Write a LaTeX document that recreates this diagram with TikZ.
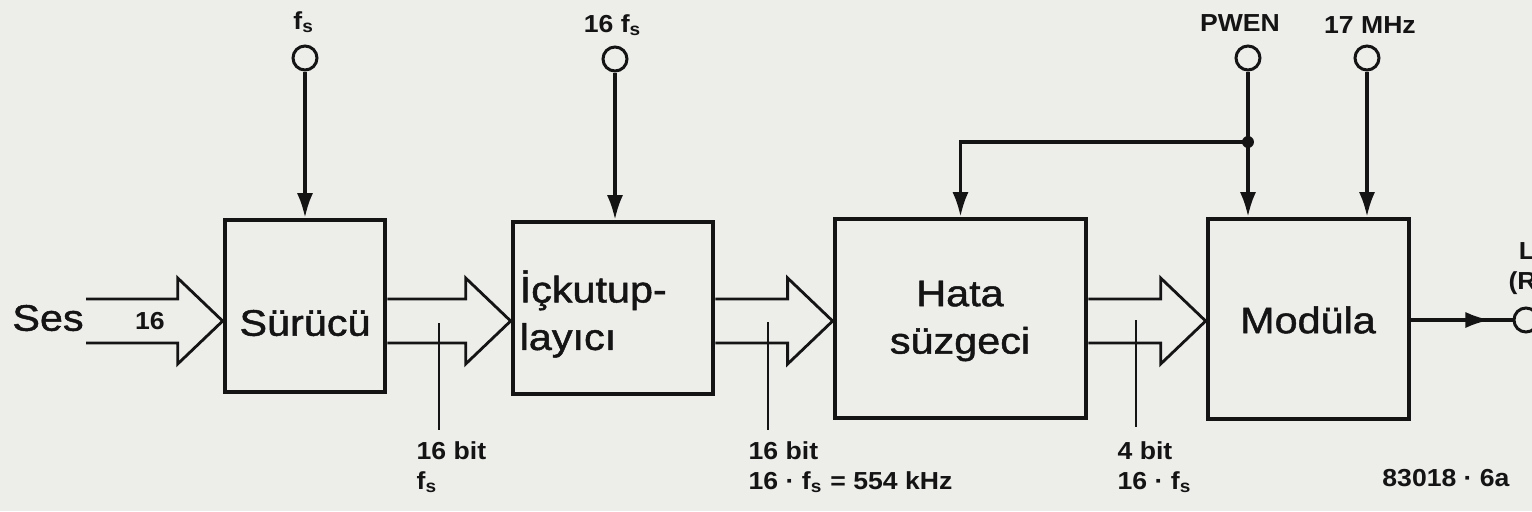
\documentclass[tikz,border=0pt]{standalone}
\usepackage{fontspec}
\setmainfont{Liberation Sans}
\newfontfamily\blkfont[FakeStretch=1.12,FakeBold=1.3]{Liberation Sans}
\newfontfamily\lblfont[FakeStretch=1.08]{Liberation Sans}
\usepackage{tikz}
\usetikzlibrary{arrows.meta,positioning,calc}
\definecolor{paper}{HTML}{EDEDEA}
\definecolor{ink}{HTML}{141414}

\newcommand{\fs}{f\textsubscript{s}}
% hollow bus arrow between two coordinates on the bus axis
\newcommand{\busarrow}[2]{%
  \draw[bus] ([shift={(0,-22)}]#1) -- ([shift={(-45,-22)}]#2) -- ([shift={(-45,-43)}]#2)
    -- (#2) -- ([shift={(-45,43)}]#2) -- ([shift={(-45,22)}]#2) -- ([shift={(0,22)}]#1);}

\begin{document}
\begin{tikzpicture}[
        x=0.01cm,y=-0.01cm,
        >={Latex[length=7pt,width=4.6pt]},
        blk/.style={draw=ink,line width=1.3pt,inner sep=0pt},
        blktxt/.style={font=\blkfont\fontsize{10.5}{13.5}\selectfont,text=ink,
                       inner sep=0pt,align=center},
        lbl/.style={font=\lblfont\bfseries\fontsize{7}{8.5}\selectfont,text=ink,
                    inner sep=0pt,align=left},
        pin/.style={circle,draw=ink,line width=0.85pt,fill=paper,
                    minimum size=0.24cm,inner sep=0pt},
        ctl/.style={draw=ink,line width=0.9pt},
        bus/.style={draw=ink,line width=0.8pt,line join=miter},
        tick/.style={draw=ink,line width=0.45pt}
      ]
        \fill[paper,use as bounding box] (0,0) rectangle (1532,511);

        % blocks
        \node[blk,minimum width=1.6cm,minimum height=1.72cm] (surucu) at (305,306) {};
        \node[blk,minimum width=2.0cm,minimum height=1.72cm] (ickutup) at (613,308) {};
        \node[blk,minimum width=2.51cm,minimum height=1.99cm] (hata) at (960.5,318.5) {};
        \node[blk,minimum width=2.01cm,minimum height=2.0cm] (modula) at (1308.5,319) {};

        \node[blktxt] (surucut) at (305,323) {Sürücü};
        \node[blktxt,align=left,anchor=west] (ickutupt) at (519,314) {İçkutup-\\layıcı};
        \node[blktxt] (hatat) at (960,321) {Hata\\süzgeci};
        \node[blktxt] (modulat) at (1308,320) {Modüla};

        % buses
        \node[blktxt] (ses) at (48,318) {Ses};
        \node[lbl] (sesw) at (150,321) {16};
        \coordinate (ses-a) at (86,321);
        \coordinate (ses-b) at (surucu.west |- ses-a);
        \coordinate (b1-a) at (surucu.east |- ses-a);
        \coordinate (b1-b) at (ickutup.west |- ses-a);
        \coordinate (b2-a) at (ickutup.east |- ses-a);
        \coordinate (b2-b) at (hata.west |- ses-a);
        \coordinate (b3-a) at (hata.east |- ses-a);
        \coordinate (b3-b) at (modula.west |- ses-a);
        \busarrow{ses-a}{ses-b}
        \busarrow{b1-a}{b1-b}
        \busarrow{b2-a}{b2-b}
        \busarrow{b3-a}{b3-b}

        % bus widths
        \coordinate (k1) at (439,323);
        \coordinate (k2) at (768,322);
        \coordinate (k3) at (1136,320);
        \draw[tick] (k1) -- ++(0,107);
        \draw[tick] (k2) -- ++(0,108);
        \draw[tick] (k3) -- ++(0,107);
        \node[lbl,anchor=north west] (k1lbl) at (416,441) {16 bit\\\fs};
        \node[lbl,anchor=north west] (k2lbl) at (748,441) {16 bit\\16 · \fs{} = 554 kHz};
        \node[lbl,anchor=north west] (k3lbl) at (1117,441) {4 bit\\16 · \fs};

        % clock and control inputs
        \node[pin] (fsin) at (305,58) {};
        \node[pin] (fs16in) at (615,59) {};
        \node[pin] (pwen) at (1248,58) {};
        \node[pin] (mhz) at (1367,58) {};
        \node[lbl] (fslbl) at (304,22) {\fs};
        \node[lbl] (fs16lbl) at (613,25) {16 \fs};
        \node[lbl] (pwenlbl) at (1240,23) {PWEN};
        \node[lbl] (mhzlbl) at (1370,25) {17 MHz};

        \draw[ctl,->] (fsin) -- (fsin |- surucu.north);
        \draw[ctl,->] (fs16in) -- (fs16in |- ickutup.north);
        \draw[ctl,->] (pwen) -- (pwen |- modula.north);
        \draw[ctl,->] (mhz) -- (mhz |- modula.north);
        \coordinate (junc) at (1248,142);
        \draw[ctl,->] (junc) -| (hata.north);
        \fill[ink] (junc) circle[radius=1.7pt];

        % output
        \node[pin] (out) at (1526,320) {};
        \coordinate (outtip) at (1490,320);
        \draw[ctl] (modula.east |- out) -- (out);
        \draw[ctl,->] (modula.east |- out) -- (outtip);
        \node[lbl,align=center] (outlbl) at (1527,269) {L\\(R)};

        \node[lbl] (figno) at (1446,478) {83018 · 6a};
      \end{tikzpicture}
\end{document}
